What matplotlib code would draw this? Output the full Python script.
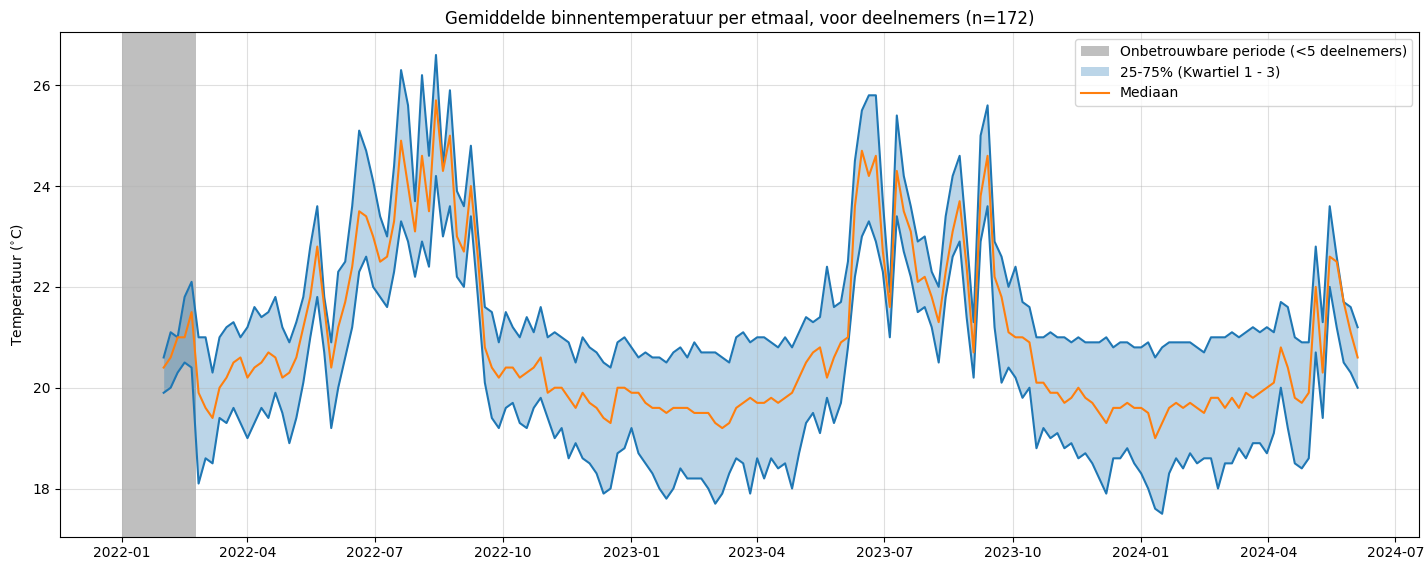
import matplotlib
matplotlib.use("Agg")
import matplotlib.pyplot as plt
import pandas as pd

START = "2022-01-31"
STEP = "5D"

q3 = [
    20.6, 21.1, 21.0, 21.8, 22.1, 21.0, 21.0, 20.3, 21.0, 21.2, 21.3, 21.0, 21.2, 21.6, 21.4, 21.5, 21.8, 21.2, 20.9, 21.3, 21.8,
    22.8,
    23.6, 21.8, 20.9, 22.3, 22.5, 23.6, 25.1, 24.7, 24.1, 23.4, 23.0, 24.4, 26.3, 25.6, 23.7, 26.2, 24.6, 26.6, 24.4, 25.9, 23.9,
    23.6, 24.8, 23.1, 21.6, 21.5, 20.9, 21.5, 21.2, 21.0, 21.4, 21.1, 21.6, 21.0, 21.1, 21.0, 20.9, 20.5, 21.0, 20.8, 20.7, 20.5,
    20.4, 20.9, 21.0, 20.8, 20.6, 20.7, 20.6, 20.6, 20.5, 20.7, 20.8, 20.6, 20.9, 20.7, 20.7, 20.7, 20.6, 20.5, 21.0, 21.1, 20.9,
    21.0, 21.0, 20.9, 20.8, 21.0, 20.8, 21.1, 21.4, 21.3, 21.4, 22.4, 21.6, 21.7, 22.5, 24.5, 25.5, 25.8, 25.8, 23.7, 21.9, 25.4, 24.2,
    23.6, 22.9, 23.0, 22.3, 22.0, 23.4, 24.2, 24.6, 23.0, 21.3, 25.0, 25.6, 22.9, 22.6, 22.0, 22.4, 21.7, 21.6, 21.0, 21.0, 21.1, 21.0,
    21.0, 20.9, 21.0, 20.9, 20.9, 20.9, 21.0, 20.8, 20.9, 20.9, 20.8, 20.8, 20.9, 20.6, 20.8, 20.9, 20.9, 20.9, 20.9, 20.8, 20.7,
    21.0, 21.0, 21.0, 21.1, 21.0, 21.1, 21.2, 21.1, 21.2, 21.1, 21.7, 21.6, 21.0, 20.9, 20.9, 22.8, 21.3, 23.6, 22.6, 21.7, 21.6, 21.2,
]

mediaan = [
    20.4, 20.6, 21.0, 21.0, 21.5, 19.9, 19.6, 19.4, 20.0, 20.2, 20.5, 20.6, 20.2, 20.4, 20.5, 20.7, 20.6, 20.2, 20.3, 20.6, 21.2,
    21.8,
    22.8, 21.6, 20.4, 21.2, 21.7, 22.4, 23.5, 23.4, 23.0, 22.5, 22.6, 23.3, 24.9, 24.0, 23.1, 24.6, 23.5, 25.7, 24.3, 25.0, 23.0,
    22.7, 24.0, 22.6, 20.8, 20.4, 20.2, 20.4, 20.4, 20.2, 20.3, 20.4, 20.6, 19.9, 20.0, 20.0, 19.8, 19.6, 19.9, 19.7, 19.6, 19.4,
    19.3, 20.0, 20.0, 19.9, 19.9, 19.7, 19.6, 19.6, 19.5, 19.6, 19.6, 19.6, 19.5, 19.5, 19.5, 19.3, 19.2, 19.3, 19.6, 19.7, 19.8,
    19.7, 19.7, 19.8, 19.7, 19.8, 19.9, 20.2, 20.5, 20.7, 20.8, 20.2, 20.6, 20.9, 21.0, 23.6, 24.7, 24.2, 24.6, 22.7, 21.6, 24.3, 23.5,
    23.1, 22.1, 22.2, 21.8, 21.3, 22.3, 23.1, 23.7, 22.4, 20.7, 23.8, 24.6, 22.2, 21.8, 21.1, 21.0, 21.0, 20.9, 20.1, 20.1, 19.9, 19.9,
    19.7, 19.8, 20.0, 19.8, 19.7, 19.5, 19.3, 19.6, 19.6, 19.7, 19.6, 19.6, 19.5, 19.0, 19.3, 19.6, 19.7, 19.6, 19.7, 19.6, 19.5,
    19.8, 19.8, 19.6, 19.8, 19.6, 19.9, 19.8, 19.9, 20.0, 20.1, 20.8, 20.4, 19.8, 19.7, 19.9, 22.0, 20.3, 22.6, 22.5, 21.7, 21.1, 20.6,
]

q1 = [
    19.9, 20.0, 20.3, 20.5, 20.4, 18.1, 18.6, 18.5, 19.4, 19.3, 19.6, 19.3, 19.0, 19.3, 19.6, 19.4, 19.9, 19.5, 18.9, 19.4, 20.1,
    21.0,
    21.8, 20.7, 19.2, 20.0, 20.6, 21.2, 22.3, 22.6, 22.0, 21.8, 21.6, 22.3, 23.3, 22.9, 22.2, 22.9, 22.4, 24.2, 23.0, 23.6, 22.2,
    22.0, 23.4, 21.8, 20.1, 19.4, 19.2, 19.6, 19.7, 19.3, 19.2, 19.6, 19.8, 19.4, 19.0, 19.2, 18.6, 18.9, 18.6, 18.5, 18.3, 17.9,
    18.0, 18.7, 18.8, 19.2, 18.7, 18.5, 18.3, 18.0, 17.8, 18.0, 18.4, 18.2, 18.2, 18.2, 18.0, 17.7, 17.9, 18.3, 18.6, 18.5, 17.9,
    18.6, 18.2, 18.6, 18.4, 18.5, 18.0, 18.7, 19.3, 19.5, 19.1, 19.8, 19.3, 19.7, 20.8, 22.2, 23.0, 23.3, 22.9, 22.3, 21.0, 23.4, 22.7,
    22.2, 21.5, 21.6, 21.2, 20.5, 21.8, 22.6, 22.9, 21.4, 20.2, 22.9, 23.6, 21.2, 20.1, 20.4, 20.2, 19.8, 20.0, 18.8, 19.2, 19.0, 19.1,
    18.8, 18.9, 18.6, 18.7, 18.5, 18.2, 17.9, 18.6, 18.6, 18.8, 18.5, 18.3, 18.0, 17.6, 17.5, 18.3, 18.6, 18.4, 18.7, 18.5, 18.6,
    18.6, 18.0, 18.5, 18.5, 18.8, 18.6, 18.9, 18.9, 18.7, 19.1, 20.0, 19.2, 18.5, 18.4, 18.6, 20.7, 19.4, 22.0, 21.2, 20.5, 20.3, 20.0,
]

# period with fewer than 5 participants
onbetrouwbaar_start = "2022-01-01"
onbetrouwbaar_eind = "2022-02-23"

datums = pd.date_range(START, periods=len(mediaan), freq=STEP)

fig, ax = plt.subplots(figsize=(14.28, 5.62), dpi=100)

ax.axvspan(pd.Timestamp(onbetrouwbaar_start), pd.Timestamp(onbetrouwbaar_eind),
           color="grey", alpha=0.5, lw=0, label="Onbetrouwbare periode (<5 deelnemers)")
ax.fill_between(datums, q1, q3, color="C0", alpha=0.3, lw=0, label="25-75% (Kwartiel 1 - 3)")
ax.plot(datums, q1, color="C0")
ax.plot(datums, q3, color="C0")
ax.plot(datums, mediaan, color="C1", label="Mediaan")

ax.set_title("Gemiddelde binnentemperatuur per etmaal, voor deelnemers (n=172)")
ax.set_ylabel("Temperatuur ($^{\\circ}$C)")
ax.grid(True, alpha=0.4)
ax.legend(loc="upper right")

fig.subplots_adjust(left=0.042, right=0.994, top=0.943, bottom=0.045)
fig.savefig("out.png", dpi=100)
